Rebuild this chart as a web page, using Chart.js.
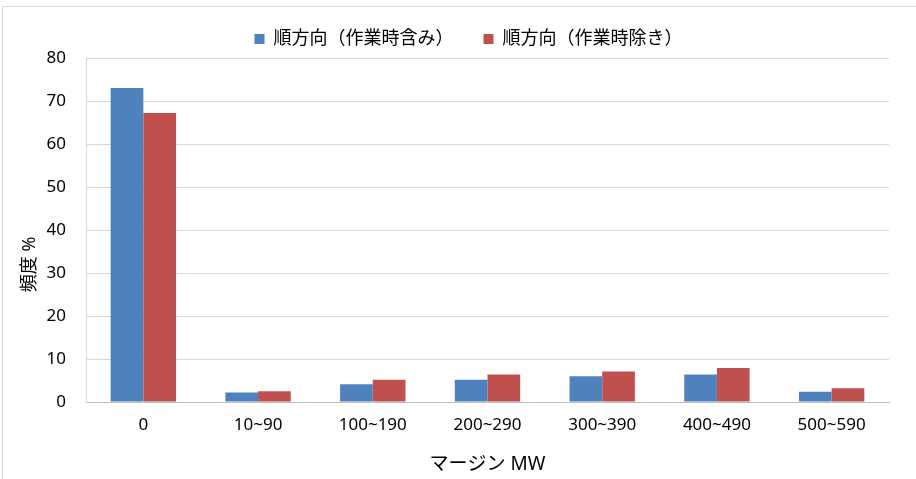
<!DOCTYPE html>
<html>
<head>
<meta charset="utf-8">
<script src="https://cdn.jsdelivr.net/npm/chart.js@4/dist/chart.umd.min.js"></script>
<style>
  html, body { margin: 0; padding: 0; background: #fff; }
  #wrap { position: absolute; left: 0; top: 0; width: 916px; height: 479px; }
  #frame { position: absolute; left: 2px; top: 6px; width: 920px; height: 480px; border: 1px solid #d9d9d9; box-sizing: border-box; }
</style>
</head>
<body>
<div id="frame"></div>
<div id="wrap"><canvas id="chart" width="916" height="479"></canvas></div>
<script>
const categories = ['0', '10~90', '100~190', '200~290', '300~390', '400~490', '500~590']
const withWork = [73.0, 2.2, 4.1, 5.2, 6.0, 6.4, 2.4]
const withoutWork = [67.2, 2.5, 5.2, 6.4, 7.1, 7.9, 3.2]
const seriesLabels = ['順方向（作業時含み）', '順方向（作業時除き）']
const yTicks = [0, 10, 20, 30, 40, 50, 60, 70, 80]
const xTitle = 'マージン MW'
const yTitle = '頻度 %'

const FONT = '"Noto Sans", "Noto Sans CJK JP", sans-serif'
const TEXT = '#000000'

// y title sits a bit below the middle of the plot, like the original
const yTitlePlugin = {
  id: 'yTitle',
  afterLayout(chart) {
    // legend in the original is centred a little right of the canvas middle
    chart.legend.left += 48
  },
  afterDraw(chart) {
    const { ctx, chartArea } = chart
    ctx.save()
    ctx.translate(30, chartArea.top + (chartArea.bottom - chartArea.top) * 0.6)
    ctx.rotate(-Math.PI / 2)
    ctx.font = '18px ' + FONT
    ctx.fillStyle = TEXT
    ctx.textAlign = 'center'
    ctx.textBaseline = 'middle'
    ctx.fillText(yTitle, 0, 0)
    ctx.restore()
  },
}

new Chart(document.getElementById('chart').getContext('2d'), {
  type: 'bar',
  data: {
    labels: categories,
    datasets: [
      { label: seriesLabels[0], data: withWork, backgroundColor: '#4f81bd' },
      { label: seriesLabels[1], data: withoutWork, backgroundColor: '#c0504d' },
    ],
  },
  options: {
    responsive: false,
    animation: false,
    layout: { padding: { top: 0, right: 27, bottom: 0, left: 0 } },
    datasets: { bar: { barPercentage: 1, categoryPercentage: 0.57 } },
    plugins: {
      legend: {
        position: 'top',
        labels: {
          color: TEXT,
          font: { family: FONT, size: 18 },
          boxWidth: 10,
          boxHeight: 10,
          padding: 30,
        },
      },
      tooltip: { enabled: false },
    },
    scales: {
      x: {
        grid: { display: false, drawTicks: false },
        border: { color: '#bfbfbf', width: 1 },
        ticks: { color: TEXT, font: { family: FONT, size: 17 }, padding: 13, maxRotation: 0 },
        title: { display: true, text: xTitle, color: TEXT, font: { family: FONT, size: 19 }, padding: { top: 0, bottom: 3 } },
        afterFit: (s) => { s.height = 77 },
      },
      y: {
        min: 0,
        max: 80,
        afterBuildTicks: (s) => { s.ticks = yTicks.map((v) => ({ value: v })) },
        grid: { color: '#d9d9d9', drawTicks: false },
        border: { color: '#d9d9d9', width: 1 },
        ticks: { color: TEXT, font: { family: FONT, size: 17 }, padding: 20 },
        afterFit: (s) => { s.width = 86 },
      },
    },
  },
  plugins: [yTitlePlugin],
})
</script>
</body>
</html>
